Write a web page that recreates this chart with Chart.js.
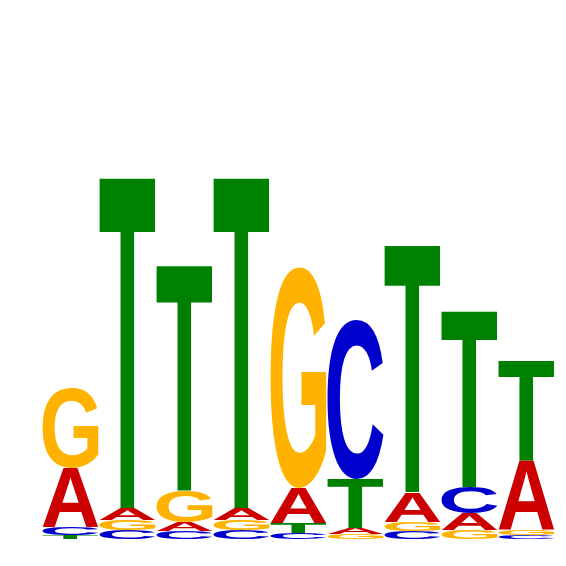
<!DOCTYPE html>
<html>
<head>
<meta charset="utf-8">
<script src="https://cdn.jsdelivr.net/npm/chart.js@4/dist/chart.umd.min.js"></script>
<style>
  html, body { margin: 0; padding: 0; background: #ffffff; }
  #wrap { width: 566px; height: 566px; }
</style>
</head>
<body>
<div id="wrap"><canvas id="c" width="566" height="566"></canvas></div>
<script>
// Sequence logo: information (bits) per base at each position
const positions = ['1', '2', '3', '4', '5', '6', '7', '8', '9'];
const bases = ['A', 'C', 'G', 'T'];
const valuesA = [0.236, 0.048, 0.034, 0.048, 0.140, 0.024, 0.120, 0.068, 0.276];
const valuesC = [0.032, 0.036, 0.032, 0.036, 0.024, 0.636, 0.032, 0.104, 0.016];
const valuesG = [0.322, 0.040, 0.128, 0.040, 0.884, 0.020, 0.036, 0.036, 0.020];
const valuesT = [0.016, 1.330, 0.906, 1.330, 0.040, 0.196, 0.994, 0.708, 0.400];
const baseColors = { A: '#CC0000', C: '#0000CC', G: '#FFB300', T: '#008000' };
const yMax = 2;

const byBase = { A: valuesA, C: valuesC, G: valuesG, T: valuesT };

// Build stacked datasets by rank (smallest at the bottom of each column)
const rankSets = [0, 1, 2, 3].map(r => ({
  label: 'rank' + r,
  data: [],
  letters: [],
  backgroundColor: 'rgba(0,0,0,0)',
  borderWidth: 0,
  categoryPercentage: 1,
  barPercentage: 56 / 57
}));
positions.forEach((p, i) => {
  const sorted = bases.map(b => ({ b: b, v: byBase[b][i] })).sort((a, b) => a.v - b.v);
  sorted.forEach((s, r) => {
    rankSets[r].data.push(s.v);
    rankSets[r].letters.push(s.b);
  });
});

function drawLetter(ctx, ch, color, x0, y0, w, h) {
  if (h < 0.5 || w < 0.5) return;
  ctx.save();
  ctx.font = 'bold 200px "Liberation Sans", Arial, Helvetica, sans-serif';
  ctx.textAlign = 'left';
  ctx.textBaseline = 'alphabetic';
  const m = ctx.measureText(ch);
  const gl = m.actualBoundingBoxLeft;
  const gr = m.actualBoundingBoxRight;
  const ga = m.actualBoundingBoxAscent;
  const gd = m.actualBoundingBoxDescent;
  const gw = gl + gr;
  const gh = ga + gd;
  ctx.translate(x0, y0);
  ctx.scale(w / gw, h / gh);
  ctx.fillStyle = color;
  ctx.fillText(ch, gl, ga);
  ctx.restore();
}

const logoPlugin = {
  id: 'logoLetters',
  afterDatasetsDraw(chart) {
    const ctx = chart.ctx;
    chart.data.datasets.forEach((ds, di) => {
      const meta = chart.getDatasetMeta(di);
      meta.data.forEach((el, i) => {
        const p = el.getProps(['x', 'y', 'base', 'width'], true);
        const top = Math.min(p.y, p.base);
        const bottom = Math.max(p.y, p.base);
        const letter = ds.letters[i];
        drawLetter(ctx, letter, baseColors[letter], p.x - p.width / 2, top, p.width, bottom - top);
      });
    });
  }
};

new Chart(document.getElementById('c'), {
  type: 'bar',
  data: { labels: positions, datasets: rankSets },
  options: {
    responsive: false,
    animation: false,
    devicePixelRatio: 1,
    layout: { padding: { left: 42, right: 11, top: 39, bottom: 27 } },
    plugins: { legend: { display: false }, tooltip: { enabled: false } },
    scales: {
      x: { stacked: true, display: false, grid: { display: false } },
      y: { stacked: true, display: false, min: 0, max: yMax, grid: { display: false } }
    }
  },
  plugins: [logoPlugin]
});
</script>
</body>
</html>
